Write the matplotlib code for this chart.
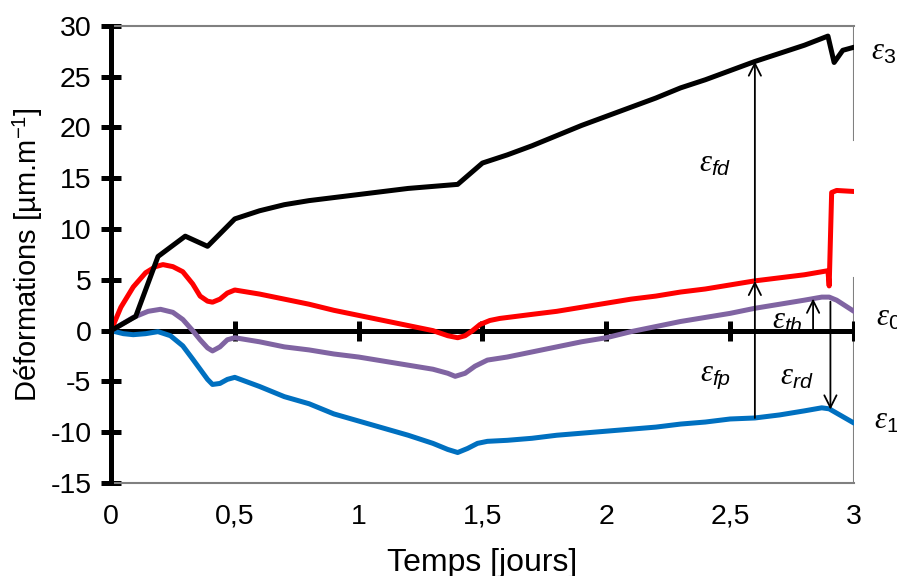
import numpy as np
import matplotlib
matplotlib.use('Agg')
import matplotlib.pyplot as plt

plt.rc('font', family='Liberation Sans', size=20.5)
plt.rc('mathtext', fontset='custom', rm='Liberation Sans', it='Liberation Serif:italic', sf='Liberation Sans:italic')

# data
t_e3 = [0, 0.1, 0.19, 0.3, 0.39, 0.5, 0.6, 0.7, 0.8, 0.9, 1.0, 1.1, 1.2, 1.3, 1.4, 1.5, 1.6, 1.7, 1.8, 1.9,
        2.0, 2.1, 2.2, 2.3, 2.4, 2.5, 2.6, 2.7, 2.8, 2.895, 2.92, 2.955, 3.0]
e3 = [0, 1.4, 7.3, 9.3, 8.3, 11.0, 11.8, 12.4, 12.8, 13.1, 13.4, 13.7, 14.0, 14.2, 14.4, 16.5, 17.3, 18.2, 19.2, 20.2,
      21.1, 22.0, 22.9, 23.9, 24.7, 25.6, 26.5, 27.3, 28.1, 29.0, 26.4, 27.6, 27.9]

t_e2 = [0, 0.04, 0.09, 0.14, 0.18, 0.21, 0.25, 0.29, 0.33, 0.36, 0.39, 0.41, 0.44, 0.47, 0.5, 0.55, 0.6, 0.7, 0.8,
        0.9, 1.0, 1.1, 1.2, 1.3, 1.36, 1.4, 1.43, 1.46, 1.49, 1.53, 1.57, 1.7, 1.8, 1.9, 2.0, 2.1, 2.2, 2.3, 2.4,
        2.5, 2.6, 2.7, 2.8, 2.895, 2.9, 2.91, 2.93, 3.0]
e2 = [0, 2.3, 4.3, 5.7, 6.3, 6.5, 6.3, 5.8, 4.6, 3.4, 2.9, 2.8, 3.1, 3.7, 4.0, 3.8, 3.6, 3.1, 2.6,
      2.0, 1.5, 1.0, 0.5, 0.0, -0.5, -0.7, -0.5, 0.0, 0.6, 1.0, 1.2, 1.6, 1.9, 2.3, 2.7, 3.1, 3.4, 3.8, 4.1,
      4.5, 4.9, 5.2, 5.5, 5.9, 4.4, 13.6, 13.8, 13.7]

t_e0 = [0, 0.09, 0.15, 0.2, 0.25, 0.29, 0.33, 0.36, 0.39, 0.41, 0.44, 0.47, 0.5, 0.6, 0.7, 0.8, 0.9, 1.0, 1.1,
        1.2, 1.3, 1.36, 1.39, 1.43, 1.47, 1.52, 1.6, 1.7, 1.8, 1.9, 2.0, 2.1, 2.2, 2.3, 2.4, 2.5, 2.6, 2.7, 2.8,
        2.87, 2.9, 2.93, 3.0]
e0 = [0, 1.3, 1.9, 2.1, 1.8, 1.1, 0.0, -0.9, -1.7, -2.0, -1.6, -0.9, -0.7, -1.1, -1.6, -1.9, -2.3, -2.6, -3.0,
      -3.4, -3.8, -4.2, -4.5, -4.2, -3.5, -2.9, -2.6, -2.1, -1.6, -1.1, -0.7, -0.1, 0.4, 0.9, 1.3, 1.7, 2.2, 2.6, 3.0,
      3.3, 3.3, 3.0, 1.9]

t_e1 = [0, 0.05, 0.09, 0.14, 0.19, 0.24, 0.29, 0.33, 0.36, 0.39, 0.41, 0.44, 0.47, 0.5, 0.6, 0.7, 0.8, 0.9, 1.0,
        1.1, 1.2, 1.3, 1.36, 1.4, 1.44, 1.48, 1.52, 1.6, 1.7, 1.8, 1.9, 2.0, 2.1, 2.2, 2.3, 2.4, 2.5, 2.6, 2.7, 2.8,
        2.87, 2.9, 3.0]
e1 = [0, -0.3, -0.4, -0.3, -0.1, -0.5, -1.5, -2.8, -3.8, -4.8, -5.3, -5.2, -4.8, -4.6, -5.5, -6.5, -7.2, -8.2, -8.9,
      -9.6, -10.3, -11.1, -11.7, -12.0, -11.6, -11.1, -10.9, -10.8, -10.6, -10.3, -10.1, -9.9, -9.7, -9.5, -9.2, -9.0,
      -8.7, -8.6, -8.3, -7.9, -7.6, -7.7, -9.1]

xticks = [0, 0.5, 1, 1.5, 2, 2.5, 3]
xticklabels = ['0', '0,5', '1', '1,5', '2', '2,5', '3']
yticks = [-15, -10, -5, 0, 5, 10, 15, 20, 25, 30]
yticklabels = ['-15', '-10', '-5', '0', '5', '10', '15', '20', '25', '30']

# arrow positions (jours)
x_fp = 2.6
x_th = 2.835
x_rd = 2.905

fig = plt.figure(figsize=(8.97, 5.76), dpi=100)
ax = fig.add_axes([0.1237, 0.1615, 0.952 - 0.1237, 0.955 - 0.1615])

gray = '#808080'
ax.plot(t_e1, e1, color='#0070c0', lw=3.6, zorder=4, solid_capstyle='round', solid_joinstyle='round')
ax.plot(t_e0, e0, color='#8064a2', lw=3.6, zorder=4, solid_capstyle='round', solid_joinstyle='round')
ax.plot(t_e2, e2, color='#ff0000', lw=3.6, zorder=5, solid_capstyle='round', solid_joinstyle='round')
ax.plot(t_e3, e3, color='k', lw=3.6, zorder=6, solid_capstyle='round')

# zero line with its ticks
ax.axhline(0, color='k', lw=3.6, zorder=3)
ax.plot(xticks, np.zeros(len(xticks)), ls='none', marker='|', ms=14, mew=3.6, color='k', zorder=3)

ax.set_xlim(0, 3)
ax.set_ylim(-15, 30)
ax.set_xticks(xticks)
ax.set_xticklabels(xticklabels)
ax.set_yticks(yticks)
ax.set_yticklabels(yticklabels)
ax.tick_params(axis='x', length=0, pad=15)
ax.tick_params(axis='y', direction='inout', length=14, width=3.6, pad=7)
for s in ['top', 'bottom']:
    ax.spines[s].set_color(gray)
    ax.spines[s].set_linewidth(1.5)
ax.spines['right'].set_visible(False)
ax.axvline(3, ymin=0, ymax=(5.2 + 15) / 45, color=gray, lw=1.5, zorder=2)
ax.axvline(3, ymin=(18.8 + 15) / 45, ymax=1, color=gray, lw=1.5, zorder=2)
ax.spines['left'].set_linewidth(3.6)
ax.spines['left'].set_zorder(7)

ax.set_xlabel('Temps [jours]', fontsize=23, labelpad=13)
ax.set_ylabel('Déformations [µm.m$^{\\mathregular{-1}}$]', fontsize=21, labelpad=4)

# arrows
ap = dict(arrowstyle='->', lw=1.3, color='k', mutation_scale=22, shrinkA=0, shrinkB=0)
y1 = np.interp(x_fp, t_e1, e1)
y2 = np.interp(x_fp, t_e2, e2)
y3 = np.interp(x_fp, t_e3, e3)
ax.annotate('', xy=(x_fp, y2), xytext=(x_fp, y1), arrowprops=ap, zorder=8)
ax.annotate('', xy=(x_fp, y3), xytext=(x_fp, y2), arrowprops=ap, zorder=8)
ax.annotate('', xy=(x_th, np.interp(x_th, t_e0, e0)), xytext=(x_th, 0), arrowprops=ap, zorder=8)
ax.annotate('', xy=(x_rd, np.interp(x_rd, t_e1, e1)), xytext=(x_rd, np.interp(x_rd, t_e0, e0) - 0.4), arrowprops=ap, zorder=8)

fs = 22
ax.text(2.44, 16.5, r'$\varepsilon_{\mathsf{fd}}$', fontsize=fs, ha='center', va='center')
ax.text(2.44, -4.5, r'$\varepsilon_{\mathsf{fp}}$', fontsize=fs, ha='center', va='center')
ax.text(2.77, -4.5, r'$\varepsilon_{\mathsf{rd}}$', fontsize=fs, ha='center', va='center')
ax.text(2.73, 1.0, r'$\varepsilon_{\mathsf{th}}$', fontsize=fs, ha='center', va='center', zorder=1)
ax.text(3.07, 27.5, r'$\varepsilon_{\mathit{3}}$', fontsize=fs, ha='left', va='center', clip_on=False)
ax.text(3.09, 1.3, r'$\varepsilon_{\mathit{0}}$', fontsize=fs, ha='left', va='center', clip_on=False)
ax.text(3.08, -8.8, r'$\varepsilon_{\mathit{1}}$', fontsize=fs, ha='left', va='center', clip_on=False)

plt.savefig('out.png', dpi=100)
